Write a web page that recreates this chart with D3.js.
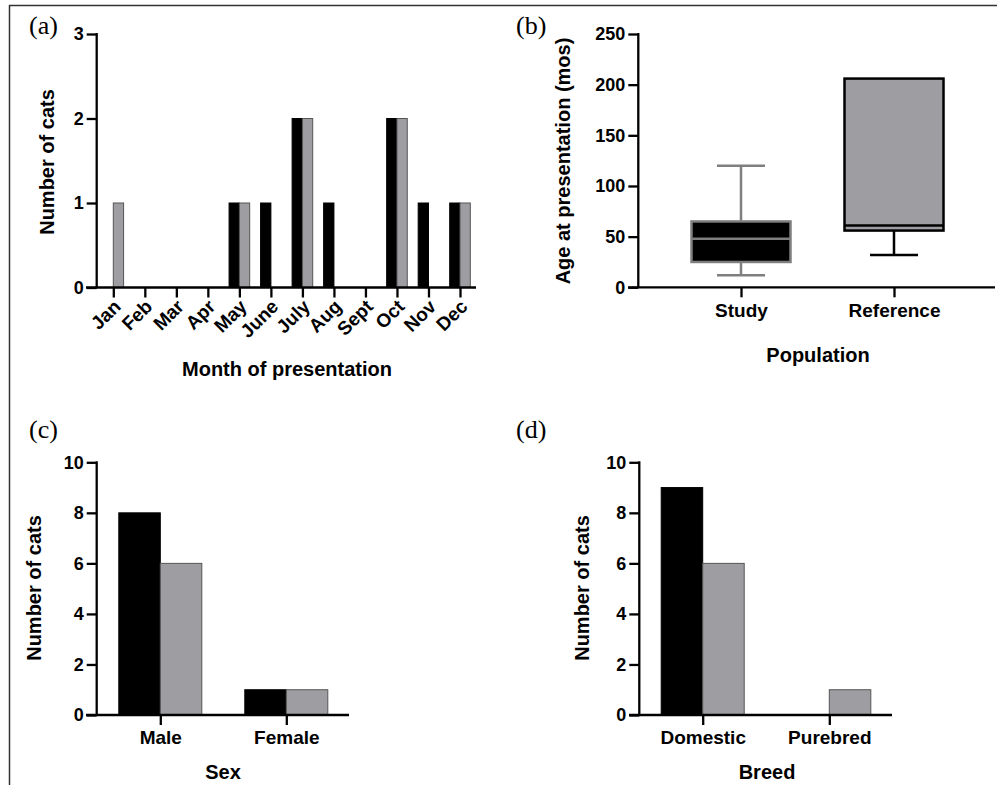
<!DOCTYPE html>
<html>
<head>
<meta charset="utf-8">
<script src="https://cdn.jsdelivr.net/npm/d3@7"></script>
<style>
  body { margin: 0; background: #fff; }
  svg text { font-family: "Liberation Sans", Arial, sans-serif; font-weight: bold; fill: #000; }
  svg text.plab { font-family: "Liberation Serif", "Times New Roman", serif; font-weight: normal; font-size: 26px; }
</style>
</head>
<body>
<svg width="997" height="785"></svg>
<script>
// data
var months = ["Jan", "Feb", "Mar", "Apr", "May", "June", "July", "Aug", "Sept", "Oct", "Nov", "Dec"];
var studyByMonth = [0, 0, 0, 0, 1, 1, 2, 1, 0, 2, 1, 1];
var refByMonth   = [1, 0, 0, 0, 1, 0, 2, 0, 0, 2, 0, 1];

var populations = ["Study", "Reference"];
var ageMin    = [12, 32];
var ageQ1     = [25, 56];
var ageMedian = [48, 61];
var ageQ3     = [65, 206];
var ageMax    = [120, 206];

var sexes = ["Male", "Female"];
var studyBySex = [8, 1];
var refBySex   = [6, 1];

var breeds = ["Domestic", "Purebred"];
var studyByBreed = [9, 0];
var refByBreed   = [6, 1];

var BLACK = "#000", GREY = "#9e9ea2";
var svg = d3.select("svg");

// frame
svg.append("line").attr("x1", 9).attr("x2", 997).attr("y1", 5.5).attr("y2", 5.5)
    .attr("stroke", "#333").attr("stroke-width", 1.5);
svg.append("line").attr("x1", 9.5).attr("x2", 9.5).attr("y1", 5).attr("y2", 785)
    .attr("stroke", "#333").attr("stroke-width", 1.5);

function yAxis(g, y, ticks, x0) {
    var ax = g.append("g").attr("transform", "translate(" + x0 + ",0)")
        .call(d3.axisLeft(y).tickValues(ticks).tickFormat(d3.format("d"))
            .tickSize(10).tickPadding(3).tickSizeOuter(0));
    ax.select(".domain").remove();
    ax.selectAll("line").attr("stroke", "#000").attr("stroke-width", 2.3);
    ax.selectAll("text").style("font-size", "18px");
    g.append("line").attr("x1", x0).attr("x2", x0)
        .attr("y1", y.range()[1] - 1).attr("y2", y.range()[0])
        .attr("stroke", "#000").attr("stroke-width", 2.3);
}

function xAxis(g, x, y0, xa, xb, size, noLabels) {
    var axis = d3.axisBottom(x).tickSize(10).tickPadding(6).tickSizeOuter(0);
    if (noLabels) axis.tickFormat("");
    var ax = g.append("g").attr("transform", "translate(0," + y0 + ")").call(axis);
    ax.select(".domain").remove();
    ax.selectAll("line").attr("stroke", "#000").attr("stroke-width", 2.3);
    ax.selectAll("text").style("font-size", size + "px");
    g.append("line").attr("x1", xa).attr("x2", xb).attr("y1", y0).attr("y2", y0)
        .attr("stroke", "#000").attr("stroke-width", 2.3);
    return ax;
}

function title(g, txt, x, y, rot) {
    g.append("text").attr("text-anchor", "middle").style("font-size", "20px")
        .attr("transform", "translate(" + x + "," + y + ")" + (rot ? " rotate(-90)" : ""))
        .attr("dy", "0.35em").text(txt);
}

function grouped(g, cats, s1, s2, x, y, w) {
    var sub = d3.scaleBand().domain([0, 1]).range([-w, w]);
    cats.forEach(function (c, i) {
        [s1[i], s2[i]].forEach(function (v, k) {
            if (v <= 0) return;
            g.append("rect")
                .attr("x", x(c) + sub(k)).attr("width", sub.bandwidth())
                .attr("y", y(v)).attr("height", y(0) - y(v))
                .attr("fill", k === 0 ? BLACK : GREY)
                .attr("stroke", k === 0 ? "#000" : "#555").attr("stroke-width", 1);
        });
    });
}

// (a) month
var ga = svg.append("g");
var xa = d3.scalePoint().domain(months).range([113.3, 460]);
var ya = d3.scaleLinear().domain([0, 3]).range([287.5, 34]);
grouped(ga, months, studyByMonth, refByMonth, xa, ya, 10.3);
yAxis(ga, ya, [0, 1, 2, 3], 96.7);
xAxis(ga, xa, 287.5, 86, 476, 17, true);
ga.selectAll("text.month").data(months).enter().append("text")
    .attr("class", "month")
    .attr("text-anchor", "end")
    .style("font-size", "19px")
    .attr("transform", function (d) { return "translate(" + (xa(d) + 4) + ",303) rotate(-45)"; })
    .attr("dy", "0.35em")
    .text(function (d) { return d; });
title(ga, "Number of cats", 47, 162, true);
title(ga, "Month of presentation", 287, 369, false);
ga.append("text").attr("class", "plab").attr("x", 29).attr("y", 34).text("(a)");

// (b) box plot
var gb = svg.append("g");
var xb = d3.scalePoint().domain(populations).range([741, 894]);
var yb = d3.scaleLinear().domain([0, 250]).range([287.3, 34]);
var boxW = 99, capW = 48;
populations.forEach(function (p, i) {
    var cx = xb(p);
    var edge = i === 0 ? "#7f7f7f" : "#000";
    var fill = i === 0 ? BLACK : GREY;
    // whiskers
    [[ageMin[i], ageQ1[i]], [ageQ3[i], ageMax[i]]].forEach(function (seg) {
        if (seg[0] === seg[1]) return;
        gb.append("line").attr("x1", cx).attr("x2", cx)
            .attr("y1", yb(seg[0])).attr("y2", yb(seg[1]))
            .attr("stroke", edge).attr("stroke-width", 2.5);
    });
    [ageMin[i], ageMax[i]].forEach(function (v) {
        if (v === ageQ1[i] || v === ageQ3[i]) return;
        gb.append("line").attr("x1", cx - capW / 2).attr("x2", cx + capW / 2)
            .attr("y1", yb(v)).attr("y2", yb(v))
            .attr("stroke", edge).attr("stroke-width", 2.5);
    });
    gb.append("rect").attr("x", cx - boxW / 2).attr("width", boxW)
        .attr("y", yb(ageQ3[i])).attr("height", yb(ageQ1[i]) - yb(ageQ3[i]))
        .attr("fill", fill).attr("stroke", edge).attr("stroke-width", 2.5);
    gb.append("line").attr("x1", cx - boxW / 2).attr("x2", cx + boxW / 2)
        .attr("y1", yb(ageMedian[i])).attr("y2", yb(ageMedian[i]))
        .attr("stroke", edge).attr("stroke-width", 2.5);
});
yAxis(gb, yb, [0, 50, 100, 150, 200, 250], 638.3);
xAxis(gb, xb, 287.3, 628, 995, 19);
title(gb, "Age at presentation (mos)", 563, 161, true);
title(gb, "Population", 818, 355, false);
gb.append("text").attr("class", "plab").attr("x", 516).attr("y", 34).text("(b)");

// (c) sex
var gc = svg.append("g");
var xc = d3.scalePoint().domain(sexes).range([160.3, 286.3]);
var yc = d3.scaleLinear().domain([0, 10]).range([715, 462.3]);
grouped(gc, sexes, studyBySex, refBySex, xc, yc, 41.5);
yAxis(gc, yc, [0, 2, 4, 6, 8, 10], 96.7);
xAxis(gc, xc, 715, 86, 349, 19);
title(gc, "Number of cats", 33.5, 588, true);
title(gc, "Sex", 223, 772, false);
gc.append("text").attr("class", "plab").attr("x", 29).attr("y", 438).text("(c)");

// (d) breed
var gd = svg.append("g");
var xd = d3.scalePoint().domain(breeds).range([702.7, 829.3]);
var yd = d3.scaleLinear().domain([0, 10]).range([715, 462.3]);
grouped(gd, breeds, studyByBreed, refByBreed, xd, yd, 41.5);
yAxis(gd, yd, [0, 2, 4, 6, 8, 10], 639.3);
xAxis(gd, xd, 715, 629, 892, 19);
title(gd, "Number of cats", 582, 588, true);
title(gd, "Breed", 767, 772, false);
gd.append("text").attr("class", "plab").attr("x", 516).attr("y", 438).text("(d)");
</script>
</body>
</html>
